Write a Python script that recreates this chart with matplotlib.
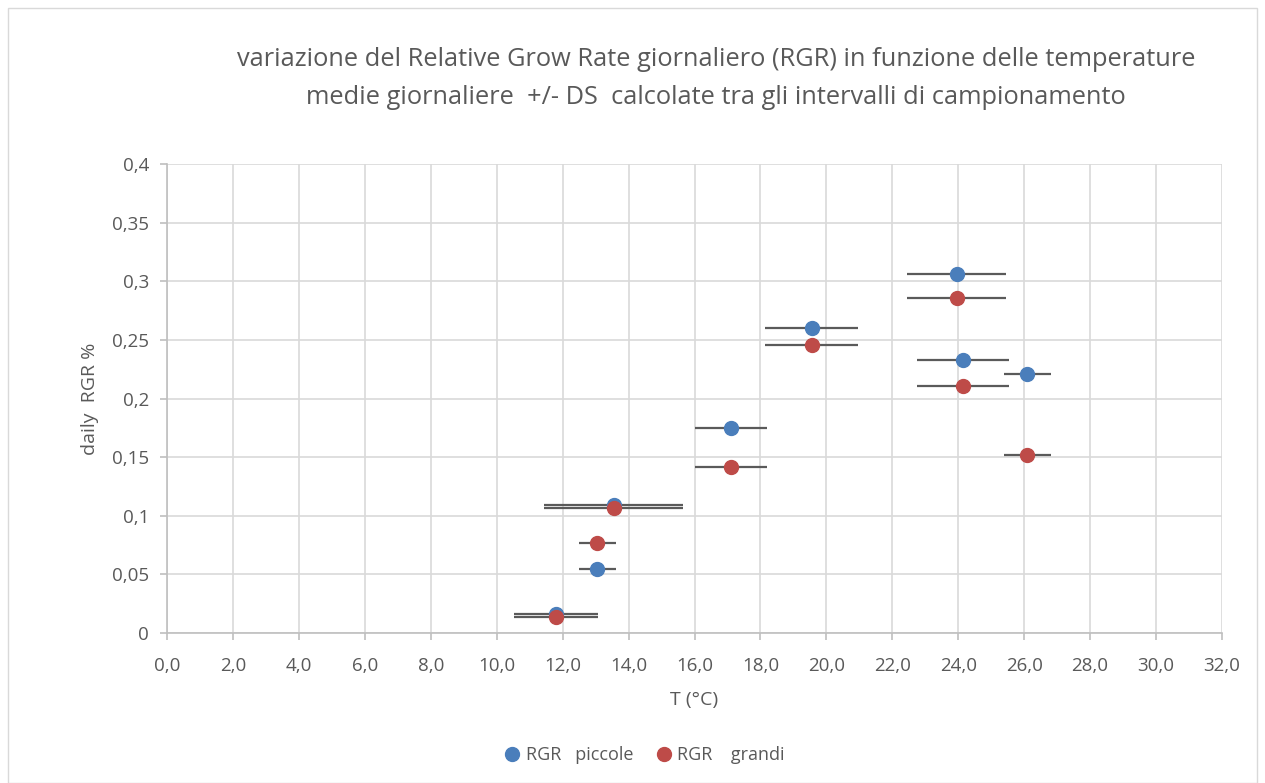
import matplotlib
matplotlib.use('Agg')
import matplotlib.pyplot as plt
from matplotlib.patches import Rectangle
from matplotlib.lines import Line2D
from matplotlib.ticker import FuncFormatter

# mean temperature (°C), SD of temperature, daily RGR
temp = [11.8, 13.05, 13.55, 17.1, 19.55, 23.95, 24.15, 26.1]
temp_sd = [1.27, 0.56, 2.1, 1.1, 1.4, 1.5, 1.4, 0.7]
rgr_piccole = [0.016, 0.055, 0.109, 0.175, 0.260, 0.306, 0.233, 0.221]
rgr_grandi = [0.014, 0.077, 0.107, 0.142, 0.246, 0.286, 0.211, 0.152]

blue = '#4A7EBB'
red = '#BE4B48'
grey_txt = '#595959'

plt.rcParams['font.family'] = ['Open Sans', 'DejaVu Sans']

fig = plt.figure(figsize=(12.65, 7.83), dpi=100)
fig.patches.append(Rectangle((8/1265, 0.0), 1 - 16/1265, 1 - 8/783,
                             transform=fig.transFigure, fill=False,
                             edgecolor='#D9D9D9', lw=1))
ax = fig.add_axes([167/1265, 1 - 633/783, (1222 - 167)/1265, (633 - 164)/783])

ax.errorbar(temp, rgr_piccole, xerr=temp_sd, fmt='o', color=blue, ms=10,
            ecolor='#5A5A5A', elinewidth=1.6, capsize=0, zorder=3)
ax.errorbar(temp, rgr_grandi, xerr=temp_sd, fmt='o', color=red, ms=10,
            ecolor='#5A5A5A', elinewidth=1.6, capsize=0, zorder=4)

ax.set_xlim(0, 32)
ax.set_ylim(0, 0.4)
ax.set_xticks([i * 2 for i in range(17)])
ax.set_yticks([i * 0.05 for i in range(9)])
ax.xaxis.set_major_formatter(FuncFormatter(lambda v, p: f'{v:.1f}'.replace('.', ',')))
ax.yaxis.set_major_formatter(FuncFormatter(lambda v, p: f'{v:.2f}'.rstrip('0').rstrip('.').replace('.', ',') if v else '0'))
ax.grid(True, color='#D9D9D9', lw=1.2)
ax.set_axisbelow(True)
for s in ['top', 'right']:
    ax.spines[s].set_visible(False)
for s in ['left', 'bottom']:
    ax.spines[s].set_color('#BFBFBF')
    ax.spines[s].set_linewidth(1.2)
ax.tick_params(colors='#BFBFBF', labelcolor=grey_txt, labelsize=13.5, length=5, width=1.2)
ax.tick_params(axis='x', pad=12)
ax.tick_params(axis='y', pad=8)

ax.set_xlabel('T (°C)', fontsize=14, color=grey_txt, labelpad=12)
ax.set_ylabel('daily  RGR %', fontsize=14, color=grey_txt, labelpad=9)

fig.text(716/1265, 1 - 60/783, 'variazione del Relative Grow Rate giornaliero (RGR) in funzione delle temperature',
         ha='center', va='center', fontsize=18.3, color=grey_txt)
fig.text(716/1265, 1 - 97/783, 'medie giornaliere  +/- DS  calcolate tra gli intervalli di campionamento',
         ha='center', va='center', fontsize=18.3, color=grey_txt)

handles = [Line2D([], [], ls='none', marker='o', ms=10, color=blue),
           Line2D([], [], ls='none', marker='o', ms=10, color=red)]
fig.legend(handles, ['RGR   piccole', 'RGR    grandi'], loc='center',
           bbox_to_anchor=(644/1265, 1 - 755/783), ncol=2, frameon=False,
           fontsize=13, handletextpad=0.25, columnspacing=1.2, handlelength=1,
           labelcolor=grey_txt)

fig.savefig('out.png', dpi=100)
